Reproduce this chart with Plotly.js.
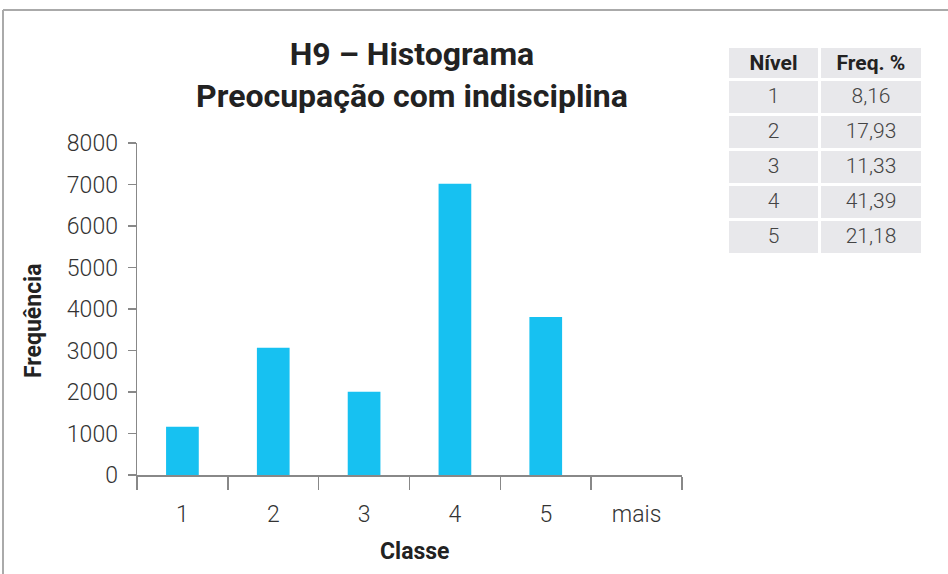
<!DOCTYPE html>
<html>
<head>
<meta charset="utf-8">
<script src="https://cdn.plot.ly/plotly-3.0.1.min.js"></script>
<style>html,body{margin:0;padding:0;background:#fff;}#chart{width:948px;height:574px;}</style>
</head>
<body>
<div id="chart"></div>
<script>
// Data
const classes = ["1", "2", "3", "4", "5", "mais"];
const frequencies = [1160, 3065, 2005, 7020, 3810, 0];
const tableLevels = ["1", "2", "3", "4", "5"];
const tablePercents = ["8,16", "17,93", "11,33", "41,39", "21,18"];
const tableHeader = ["Nível", "Freq. %"];

const W = 948, H = 574;
const px = v => v / W;
const py = v => 1 - v / H;

const bar = {
  type: "bar",
  x: classes,
  y: frequencies,
  marker: {color: "#17C1F1"},
  hoverinfo: "x+y",
  xaxis: "x", yaxis: "y"
};

const table = {
  type: "table",
  domain: {x: [px(727), px(922)], y: [py(253), py(46)]},
  columnwidth: [92, 101],
  header: {
    values: tableHeader,
    align: "center",
    height: 33,
    fill: {color: "#E8E8EB"},
    line: {color: "#ffffff", width: 3},
    font: {family: "Roboto", size: 21, color: "#222", weight: 700}
  },
  cells: {
    values: [tableLevels, tablePercents],
    align: "center",
    height: 35,
    fill: {color: "#E8E8EB"},
    line: {color: "#ffffff", width: 3},
    font: {family: "Roboto", size: 21, color: "#444", weight: 300}
  }
};

const layout = {
  width: W, height: H,
  margin: {l: 0, r: 0, t: 0, b: 0},
  paper_bgcolor: "#ffffff",
  plot_bgcolor: "#ffffff",
  showlegend: false,
  bargap: 0.64,
  font: {family: "Roboto", color: "#333"},
  title: {
    text: "H9 – Histograma<br>Preocupação com indisciplina",
    x: px(412), xanchor: "center", xref: "paper",
    y: py(65), yanchor: "top", yref: "paper",
    font: {family: "Roboto", size: 32, color: "#222", weight: 700}
  },
  xaxis: {
    domain: [px(137), px(682)],
    type: "category",
    range: [-0.5, 5.5],
    showline: true, linecolor: "#888", linewidth: 1.5,
    ticks: "outside", ticklen: 13, tickcolor: "#888", tickwidth: 1.5,
    tickson: "boundaries",
    showgrid: false, zeroline: false,
    ticklabelstandoff: 18,
    tickfont: {family: "Roboto", size: 23, color: "#333", weight: 300},
    fixedrange: true
  },
  yaxis: {
    domain: [py(475), py(143)],
    range: [0, 8000],
    dtick: 1000, tick0: 0,
    showline: true, linecolor: "#888", linewidth: 1.5,
    ticks: "outside", ticklen: 8, tickcolor: "#888", tickwidth: 1.5,
    showgrid: false, zeroline: false,
    ticklabelstandoff: 5,
    tickfont: {family: "Roboto", size: 23, color: "#333", weight: 300},
    fixedrange: true
  },
  annotations: [
    {text: "Frequência", textangle: -90, xref: "paper", yref: "paper",
     x: px(33), y: py(321), xanchor: "center", yanchor: "middle", showarrow: false,
     font: {family: "Roboto", size: 23, color: "#222", weight: 700}},
    {text: "Classe", xref: "paper", yref: "paper",
     x: px(415), y: py(551), xanchor: "center", yanchor: "middle", showarrow: false,
     font: {family: "Roboto", size: 23, color: "#222", weight: 700}}
  ],
  shapes: [
    {type: "line", xref: "paper", yref: "paper", x0: px(3), x1: 1, y0: py(10), y1: py(10),
     line: {color: "#AAAAAA", width: 2}},
    {type: "line", xref: "paper", yref: "paper", x0: px(3), x1: px(3), y0: py(10), y1: 0,
     line: {color: "#AAAAAA", width: 2}}
  ]
};

Plotly.newPlot("chart", [bar, table], layout, {displayModeBar: false, staticPlot: true});
</script>
</body>
</html>
